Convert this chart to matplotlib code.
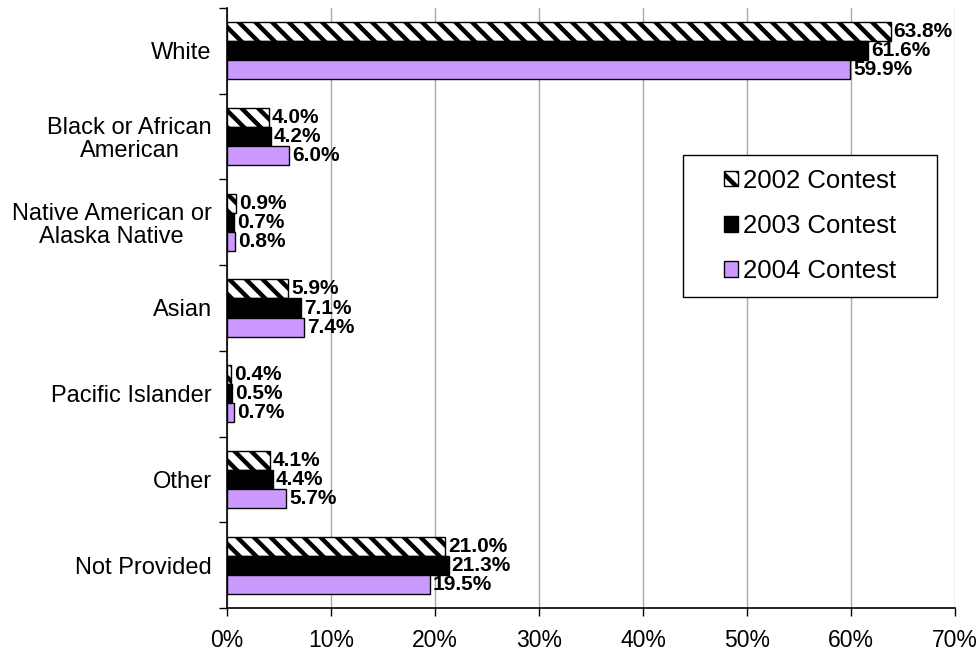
import numpy as np
import matplotlib
matplotlib.use("Agg")
import matplotlib.pyplot as plt
from matplotlib.patches import Rectangle

categories = ["White", "Black or African\nAmerican", "Native American or\nAlaska Native",
              "Asian", "Pacific Islander", "Other", "Not Provided"]
series_names = ["2002 Contest", "2003 Contest", "2004 Contest"]
v2002 = [63.8, 4.0, 0.9, 5.9, 0.4, 4.1, 21.0]
v2003 = [61.6, 4.2, 0.7, 7.1, 0.5, 4.4, 21.3]
v2004 = [59.9, 6.0, 0.8, 7.4, 0.7, 5.7, 19.5]
x_ticks = [0, 10, 20, 30, 40, 50, 60, 70]

plt.rcParams["font.family"] = ["Liberation Sans", "DejaVu Sans"]
plt.rcParams["hatch.linewidth"] = 3.2

fig = plt.figure(figsize=(9.79, 6.55), dpi=100)
ax = fig.add_axes([227 / 979, 47 / 655, 728 / 979, 600 / 655])

y = np.arange(len(categories))
h = 0.222
styles = [
    dict(color="white", edgecolor="black", hatch="\\\\", linewidth=1.0),
    dict(color="black", edgecolor="black", linewidth=1.0),
    dict(color="#CC99FF", edgecolor="black", linewidth=1.0),
]
for k, (vals, name, st) in enumerate(zip([v2002, v2003, v2004], series_names, styles)):
    pos = y + (k - 1) * h
    ax.barh(pos, vals, height=h, label=name, zorder=3, **st)
    for p, v in zip(pos, vals):
        ax.text(v + 0.3, p, f"{v:.1f}%", va="center", ha="left",
                fontsize=15, fontweight="bold", zorder=4)

ax.set_xlim(0, 70)
ax.set_ylim(len(categories) - 0.5, -0.5)
ax.set_xticks(x_ticks)
ax.set_xticklabels([f"{t}%" for t in x_ticks], fontsize=16.5)
ax.set_yticks(y)
ax.set_yticklabels(categories, fontsize=17, ha="right", multialignment="center",
                   linespacing=1.05)
ax.set_yticks(np.arange(len(categories) + 1) - 0.5, minor=True)
ax.tick_params(axis="y", which="major", length=0, pad=11)
ax.tick_params(axis="y", which="minor", length=6, width=1, direction="out")
ax.tick_params(axis="x", which="major", length=6, width=1, direction="out", pad=9)

ax.grid(axis="x", color="#A8A8A8", linewidth=1, zorder=0)
for s in ["top", "right"]:
    ax.spines[s].set_visible(False)
for s in ["left", "bottom"]:
    ax.spines[s].set_linewidth(1.2)

# legend box is wider than matplotlib's own frame would be, so draw it separately
box = Rectangle((0.626, 0.518), 0.349, 0.237, transform=ax.transAxes,
                facecolor="white", edgecolor="black", linewidth=1.0, zorder=5)
ax.add_patch(box)
leg = ax.legend(loc="center", bbox_to_anchor=(0.8007, 0.6367), borderaxespad=0,
                fontsize=18.5, frameon=False,
                handlelength=0.55, handleheight=0.55, handletextpad=0.2,
                labelspacing=0.83, borderpad=0)
leg.set_zorder(6)

fig.savefig("out.png", dpi=100)
